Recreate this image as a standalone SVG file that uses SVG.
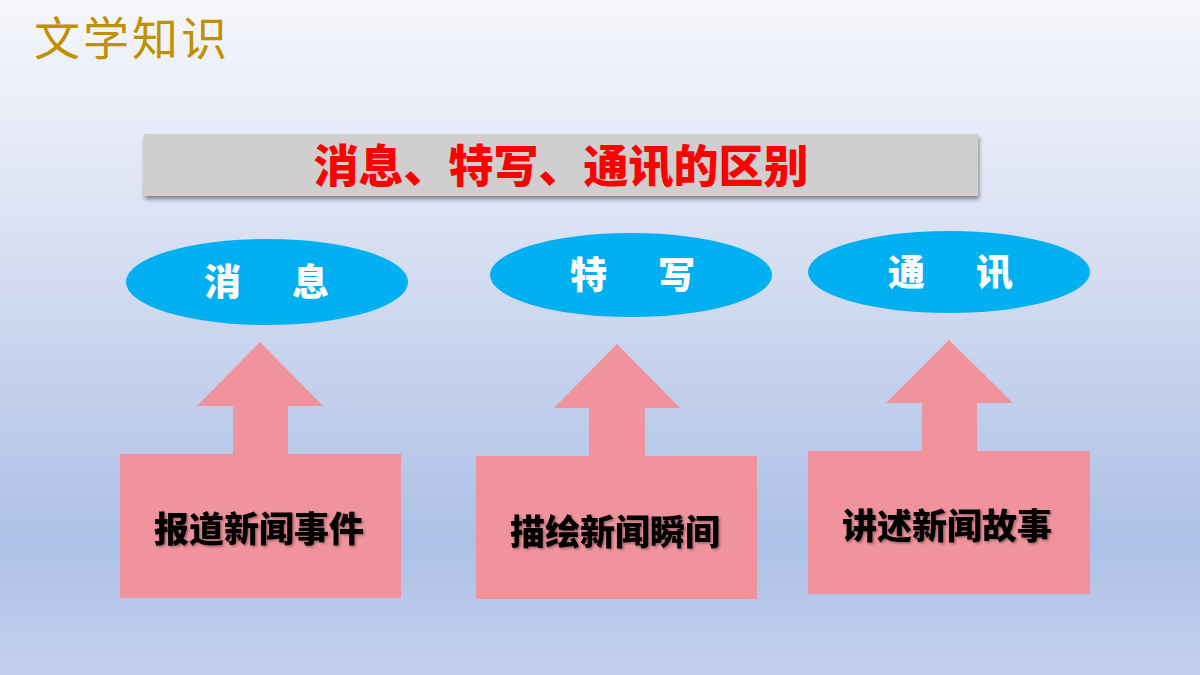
<svg xmlns="http://www.w3.org/2000/svg" width="1200" height="675" viewBox="0 0 1200 675">
<defs>
<linearGradient id="bg" x1="0" y1="0" x2="0" y2="1">
<stop offset="0" stop-color="#f6f7fc"/>
<stop offset="0.25" stop-color="#e2e7f5"/>
<stop offset="0.8" stop-color="#aec0e7"/>
<stop offset="1" stop-color="#c3cfee"/>
</linearGradient>
<filter id="sh" x="-5%" y="-20%" width="110%" height="160%">
<feDropShadow dx="1" dy="3" stdDeviation="2" flood-color="#000" flood-opacity="0.45"/>
</filter>
<filter id="tsh" x="-5%" y="-20%" width="110%" height="150%">
<feDropShadow dx="1.5" dy="1.5" stdDeviation="1" flood-color="#000" flood-opacity="0.35"/>
</filter>
</defs>
<style>
.cjk{font-family:"Noto Sans CJK SC","Noto Sans",sans-serif;}
.ell{fill:#00b0f0;}
.elt{fill:#ffffff;font-size:37px;font-weight:900;}
.arr{fill:#f0939c;}
.box{fill:#f0939c;}
.bxt{fill:#000;font-size:35px;font-weight:900;text-anchor:middle;}
</style>
<rect width="1200" height="675" fill="url(#bg)"/>
<g id="heading">
<text x="34" y="55" class="cjk" font-size="46" fill="#bf9000" letter-spacing="3">文学知识</text>
</g>
<g id="title">
<rect x="144" y="134" width="834" height="62" fill="#d0cece" filter="url(#sh)"/>
<text x="561" y="183" class="cjk" font-size="45" font-weight="900" fill="#ff0000" text-anchor="middle">消息、特写、通讯的区别</text>
</g>
<g id="node-xiaoxi">
<ellipse cx="267" cy="282" rx="141" ry="43" class="ell"/>
<text x="204 292" y="296" class="cjk elt">消息</text>
</g>
<g id="node-texie">
<ellipse cx="631" cy="275" rx="141" ry="42" class="ell"/>
<text x="570 658" y="289" class="cjk elt">特写</text>
</g>
<g id="node-tongxun">
<ellipse cx="949" cy="272" rx="141" ry="41" class="ell"/>
<text x="888 976" y="286" class="cjk elt">通讯</text>
</g>
<g id="box-1">
<rect x="120" y="454" width="281" height="144" class="box"/>
<text x="259" y="542" class="cjk bxt" filter="url(#tsh)">报道新闻事件</text>
</g>
<g id="box-2">
<rect x="476" y="456" width="281" height="143" class="box"/>
<text x="615" y="545" class="cjk bxt" filter="url(#tsh)">描绘新闻瞬间</text>
</g>
<g id="box-3">
<rect x="808" y="451" width="282" height="143" class="box"/>
<text x="947" y="539" class="cjk bxt" filter="url(#tsh)">讲述新闻故事</text>
</g>
<g id="connectors">
<polygon class="arr" points="260,342 323,406 288,406 288,455 233,455 233,406 197,406"/>
<polygon class="arr" points="617,344 680,408 645,408 645,457 589,457 589,408 554,408"/>
<polygon class="arr" points="949,340 1013,403 977,403 977,452 922,452 922,403 886,403"/>
</g>
</svg>
